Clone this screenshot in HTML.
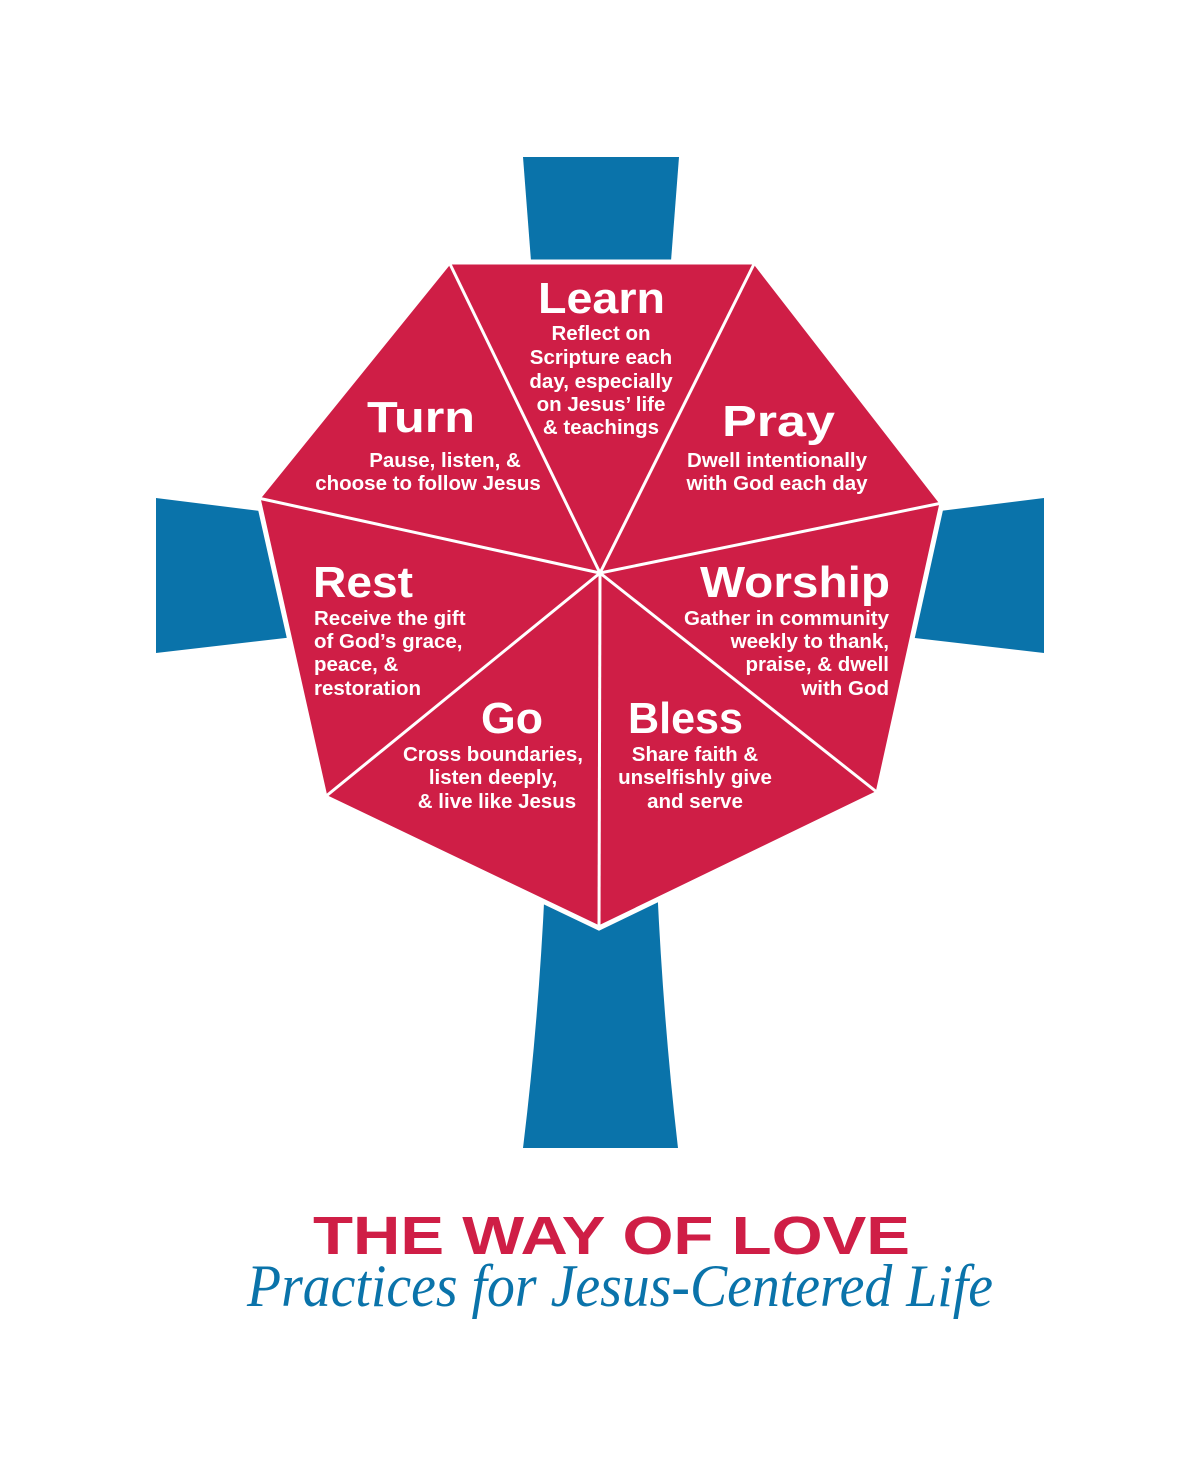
<!DOCTYPE html>
<html><head><meta charset="utf-8"><style>
html,body{margin:0;padding:0;background:#fff;}
svg{display:block;}
.h{font-family:"Liberation Sans",sans-serif;font-weight:bold;fill:#fff;font-size:44px;}
.b{font-family:"Liberation Sans",sans-serif;font-weight:bold;fill:#fff;font-size:20.5px;}
</style></head><body>
<svg width="1200" height="1477" viewBox="0 0 1200 1477" xmlns="http://www.w3.org/2000/svg">
<rect width="1200" height="1477" fill="#fff"/>
<g fill="#0A73AA">
<path d="M523,157 L679,157 L668,300 L534,300 Z"/>
<path d="M156,498 L300,516 L320,634 L156,653 Z"/>
<path d="M1044,498 L900,516 L880,634 L1044,653 Z"/>
<path d="M546,860 L656,860 Q662,1010 678,1148 L523,1148 Q540,1010 546,860 Z"/>
</g>
<polygon points="449,262 755,262 942,503 878,793 599,928 325,797 258,498" fill="#CF1E46" stroke="#fff" stroke-width="5" stroke-linejoin="miter"/>
<g stroke="#fff" stroke-width="3">
<line x1="600" y1="573" x2="449" y2="262"/>
<line x1="600" y1="573" x2="755" y2="262"/>
<line x1="600" y1="573" x2="942" y2="503"/>
<line x1="600" y1="573" x2="878" y2="793"/>
<line x1="600" y1="573" x2="599" y2="928"/>
<line x1="600" y1="573" x2="325" y2="797"/>
<line x1="600" y1="573" x2="258" y2="498"/>
</g>
<text class="h" x="538" y="313" textLength="127" lengthAdjust="spacingAndGlyphs">Learn</text>
<text class="h" x="367" y="432" textLength="108" lengthAdjust="spacingAndGlyphs">Turn</text>
<text class="h" x="722" y="436" textLength="113" lengthAdjust="spacingAndGlyphs">Pray</text>
<text class="h" x="313" y="597" textLength="100" lengthAdjust="spacingAndGlyphs">Rest</text>
<text class="h" x="700" y="597" textLength="190" lengthAdjust="spacingAndGlyphs">Worship</text>
<text class="h" x="481" y="733" textLength="62" lengthAdjust="spacingAndGlyphs">Go</text>
<text class="h" x="628" y="733" textLength="115" lengthAdjust="spacingAndGlyphs">Bless</text>
<g text-anchor="middle">
<text class="b" x="601" y="340">Reflect on</text>
<text class="b" x="601" y="364">Scripture each</text>
<text class="b" x="601" y="388">day, especially</text>
<text class="b" x="601" y="411">on Jesus’ life</text>
<text class="b" x="601" y="434">&amp; teachings</text>
<text class="b" x="445" y="467">Pause, listen, &amp;</text>
<text class="b" x="428" y="490">choose to follow Jesus</text>
<text class="b" x="777" y="467">Dwell intentionally</text>
<text class="b" x="777" y="490">with God each day</text>
<text class="b" x="493" y="761">Cross boundaries,</text>
<text class="b" x="493" y="784">listen deeply,</text>
<text class="b" x="497" y="808">&amp; live like Jesus</text>
<text class="b" x="695" y="761">Share faith &amp;</text>
<text class="b" x="695" y="784">unselfishly give</text>
<text class="b" x="695" y="808">and serve</text>
</g>
<text class="b" x="314" y="625">Receive the gift</text>
<text class="b" x="314" y="648">of God’s grace,</text>
<text class="b" x="314" y="671">peace, &amp;</text>
<text class="b" x="314" y="695">restoration</text>
<g text-anchor="end">
<text class="b" x="889" y="625">Gather in community</text>
<text class="b" x="889" y="648">weekly to thank,</text>
<text class="b" x="889" y="671">praise, &amp; dwell</text>
<text class="b" x="889" y="695">with God</text>
</g>
<text x="313" y="1254" textLength="597" lengthAdjust="spacingAndGlyphs" font-family="Liberation Sans,sans-serif" font-weight="bold" font-size="54" fill="#CF1E46">THE WAY OF LOVE</text>
<text x="247" y="1306" textLength="746" lengthAdjust="spacingAndGlyphs" font-family="Liberation Serif,serif" font-style="italic" font-size="60" fill="#0A73AA">Practices for Jesus-Centered Life</text>
</svg>
</body></html>
